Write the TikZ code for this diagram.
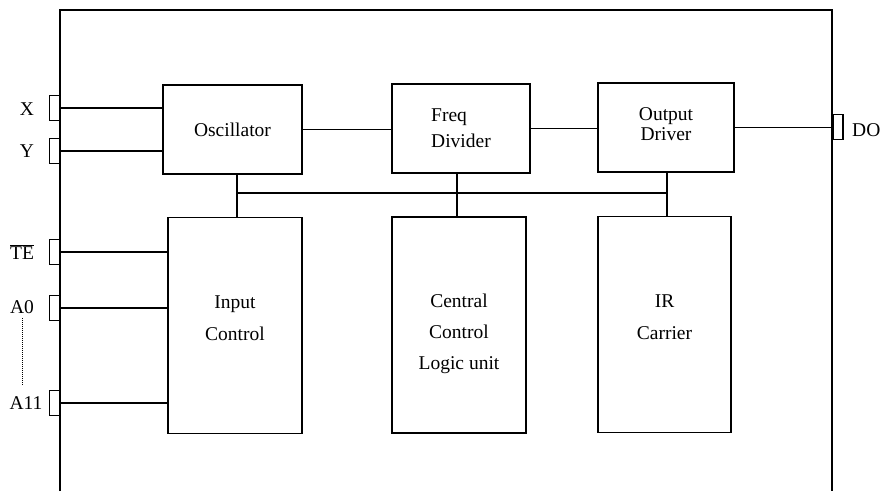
\documentclass[tikz,border=0pt]{standalone}
\usepackage{fontspec}
\setmainfont{Liberation Serif}
\usetikzlibrary{positioning, calc}
\tikzset{
	block/.style={draw, line width=1.7pt, inner sep=0pt, align=center, font=\fontsize{19.5}{26}\selectfont},
	tallblock/.style={block, minimum width=134pt, minimum height=216pt},
	boxtext/.style={align=center, inner sep=0pt, font=\fontsize{19.5}{32}\selectfont},
	pinbox/.style={draw, line width=1.5pt, minimum width=10pt, minimum height=25pt, inner sep=0pt},
	pinlabel/.style={font=\fontsize{19.5}{24}\selectfont, inner sep=0pt},
	wire/.style={line width=1.6pt},
}

\begin{document}
\begin{tikzpicture}[x=1pt, y=-1pt]
		\useasboundingbox (0,0) rectangle (882,491);
		
		\draw[line width=1.8pt] (60,491) -- (60,10) -- (832,10) -- (832,491);
		
		\node[block, minimum width=139pt, minimum height=89pt] (OSC) at (232.5,129.5) {Oscillator};
		\node[block, minimum width=138pt, minimum height=89pt, align=left] (FREQ) at (461,128.5) {Freq\\Divider};
		\node[block, minimum width=136pt, minimum height=89pt, label={[boxtext, yshift=3pt, font=\fontsize{19.5}{20}\selectfont]center:Output\\Driver}] (DRV) at (666,127.5) {};
		\node[tallblock, label={[boxtext, yshift=7pt]center:Input\\Control}] (INPUT) at (235,325.5) {};
		\node[tallblock, label={[boxtext, yshift=-9pt, font=\fontsize{19.5}{31}\selectfont]center:Central\\Control\\Logic unit}] (CCLU) at (459,325) {};
		\node[tallblock, minimum width=133pt, label={[boxtext, yshift=7pt]center:IR\\Carrier}] (IR) at (664.5,324.5) {};
		
		\node[pinbox, anchor=east] (PX) at (60,108) {};
		\node[pinbox, anchor=east] (PY) at (60,151) {};
		\node[pinbox, anchor=east] (PTE) at (60,252) {};
		\node[pinbox, anchor=east] (PA0) at (60,308) {};
		\node[pinbox, anchor=east] (PA11) at (60,403) {};
		\node[pinbox, anchor=west] (PDO) at (832,127) {};
		
		\node[pinlabel] (LX) at (27,109) {X};
		\node[pinlabel] (LY) at (27,151) {Y};
		\node[pinlabel] (LTE) at (22,252) {$\overline{\mbox{TE}}$};
		\node[pinlabel] (LA0) at (22,307) {A0};
		\node[pinlabel] (LA11) at (26,403) {A11};
		\node[pinlabel, anchor=west] (LDO) at (852,130) {DO};
		
		\coordinate (B1) at (237,193);
		\coordinate (B2) at (457,193);
		\coordinate (B3) at (667,193);
		
		\draw[wire] (PX.east) -- (PX.east -| OSC.west);
		\draw[wire] (PY.east) -- (PY.east -| OSC.west);
		\draw[wire] (PTE.east) -- (PTE.east -| INPUT.west);
		\draw[wire] (PA0.east) -- (PA0.east -| INPUT.west);
		\draw[wire] (PA11.east) -- (PA11.east -| INPUT.west);
		\draw[dash pattern=on 1pt off 1pt, line width=1pt] ([yshift=-4pt]LA0.south) -- ([yshift=12pt]LA11.north -| LA0.south);
		
		\draw[wire] (OSC.east) -- (FREQ.west |- OSC.east);
		\draw[wire] (FREQ.east) -- (DRV.west |- FREQ.east);
		\draw[wire] (DRV.east) -- (PDO.west |- DRV.east);
		
		\draw[wire] (B1) -- (B3);
		\draw[wire] (OSC.south -| B1) -- (INPUT.north -| B1);
		\draw[wire] (FREQ.south -| B2) -- (CCLU.north -| B2);
		\draw[wire] (DRV.south -| B3) -- (IR.north -| B3);
		
	\end{tikzpicture}
\end{document}
